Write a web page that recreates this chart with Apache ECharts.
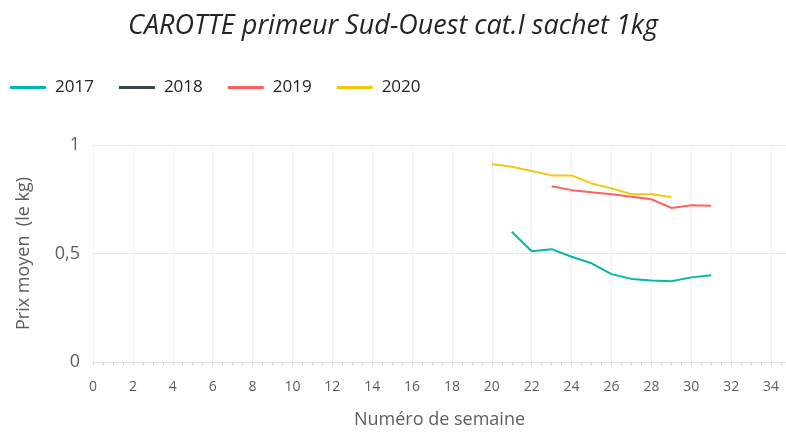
<!DOCTYPE html>
<html>
<head>
<meta charset="utf-8">
<script src="https://cdn.jsdelivr.net/npm/echarts@6/dist/echarts.min.js"></script>
<style>
  html, body { margin: 0; padding: 0; background: #fff; }
  #chart { width: 786px; height: 434px; }
</style>
</head>
<body>
<div id="chart"></div>
<script>
const years = ['2017', '2018', '2019', '2020'];
const colors = ['#01B8AA', '#374649', '#FD625E', '#F2C80F'];

// [semaine, prix]
const s2017 = [[21, 0.60], [22, 0.51], [23, 0.52], [24, 0.485], [25, 0.455], [26, 0.405],
  [27, 0.383], [28, 0.376], [29, 0.372], [30, 0.39], [31, 0.40]];
const s2018 = [];
const s2019 = [[23, 0.81], [24, 0.792], [25, 0.782], [26, 0.773], [27, 0.762], [28, 0.75],
  [29, 0.71], [30, 0.722], [31, 0.72]];
const s2020 = [[20, 0.912], [21, 0.90], [22, 0.88], [23, 0.86], [24, 0.86], [25, 0.823],
  [26, 0.80], [27, 0.773], [28, 0.773], [29, 0.76]];

const seriesData = [s2017, s2018, s2019, s2020];

const chart = echarts.init(document.getElementById('chart'));

const font = '"Open Sans", "Noto Sans", sans-serif';

const options = {
  animation: false,
  color: colors,
  title: {
    text: 'CAROTTE primeur Sud-Ouest cat.I sachet 1kg',
    left: 'center',
    top: 8,
    textStyle: {
      fontFamily: font,
      fontStyle: 'italic',
      fontWeight: 'normal',
      fontSize: 27,
      color: '#252423'
    }
  },
  legend: {
    left: 5,
    top: 74,
    itemWidth: 36,
    itemHeight: 3,
    itemGap: 25,
    icon: 'rect',
    textStyle: { fontFamily: font, fontSize: 17, color: '#252423', padding: [0, 0, 0, 4] },
    data: years
  },
  grid: {
    left: 93,
    right: 0,
    top: 145,
    bottom: 69
  },
  xAxis: {
    type: 'value',
    min: 0,
    max: 34.75,
    interval: 2,
    name: 'Numéro de semaine',
    nameLocation: 'middle',
    nameGap: 49,
    nameTextStyle: { fontFamily: font, fontSize: 18, color: '#605E5C' },
    axisLine: { lineStyle: { color: '#E6E6E6' } },
    axisTick: { show: true, length: 3, lineStyle: { color: '#D0D0D0' } },
    minorTick: { show: true, splitNumber: 4, length: 3, lineStyle: { color: '#D0D0D0' } },
    axisLabel: {
      fontFamily: font, fontSize: 14, color: '#605E5C', margin: 18,
      showMaxLabel: false
    },
    splitLine: { show: true, lineStyle: { color: '#F0F0F0', width: 1 } }
  },
  yAxis: {
    type: 'value',
    min: 0,
    max: 1,
    interval: 0.5,
    name: 'Prix moyen  (le kg)',
    nameLocation: 'middle',
    nameGap: 60,
    nameRotate: 90,
    nameTextStyle: { fontFamily: font, fontSize: 18, color: '#605E5C' },
    axisLine: { show: false },
    axisTick: { show: false },
    axisLabel: {
      fontFamily: font, fontSize: 18, color: '#605E5C', margin: 13,
      formatter: v => String(v).replace('.', ',')
    },
    splitLine: { lineStyle: { color: '#E6E6E6', width: 1 } }
  },
  series: years.map((y, i) => ({
    name: y,
    type: 'line',
    data: seriesData[i],
    showSymbol: false,
    symbol: 'none',
    lineStyle: { width: 2 }
  }))
};

chart.setOption(options);
</script>
</body>
</html>
